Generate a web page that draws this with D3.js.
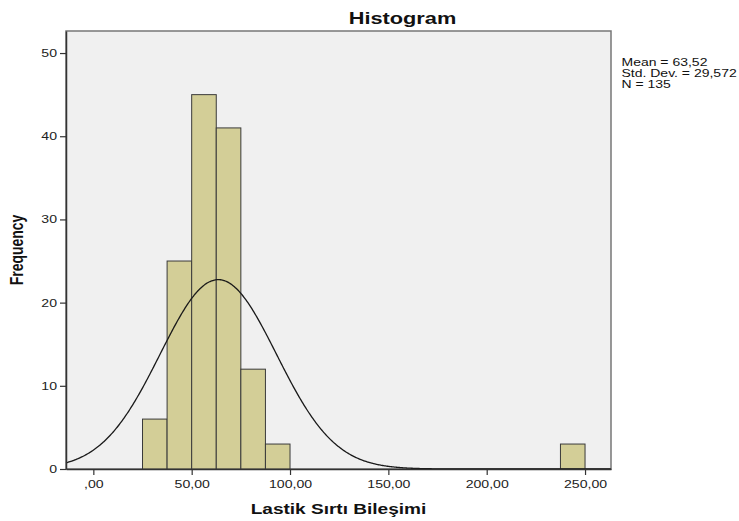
<!DOCTYPE html>
<html>
<head>
<meta charset="utf-8">
<script src="https://cdn.jsdelivr.net/npm/d3@7"></script>
<style>
  body { margin: 0; background: #fff; }
  text { font-family: Arial, "Liberation Sans", sans-serif; }
</style>
</head>
<body>
<div id="container"></div>
<script>
// histogram bins (lower edge, upper edge, count)
let binStart = [25, 37.5, 50, 62.5, 75, 87.5, 237.5];
let binEnd = [37.5, 50, 62.5, 75, 87.5, 100, 250];
let counts = [6, 25, 45, 41, 12, 3, 3];
let xTicks = [0, 50, 100, 150, 200, 250];
let xTickLabels = [",00", "50,00", "100,00", "150,00", "200,00", "250,00"];
let yTicks = [0, 10, 20, 30, 40, 50];
let stats = ["Mean = 63,52", "Std. Dev. = 29,572", "N = 135"];
let mean = 63.52, sd = 29.572, n = 135, binWidth = 12.5;

// the picture's text is drawn wide, so labels get a horizontal stretch
let sx = 1.28;

let svg = d3.select('#container')
    .append('svg')
    .attr("width", 739)
    .attr("height", 521);

let plotLeft = 66, plotRight = 611, plotTop = 31, plotBottom = 469;

let x = d3.scaleLinear().domain([-13.9, 263.2]).range([plotLeft, plotRight]);
let y = d3.scaleLinear().domain([0, 52.65]).range([plotBottom, plotTop]);

function wideText(sel, cx, cy, s) {
    s = s || sx;
    sel.attr('x', cx / s).attr('y', cy)
       .attr('transform', `scale(${s},1)`);
}

// plot background
svg.append('rect')
    .attr('x', plotLeft).attr('y', plotTop)
    .attr('width', plotRight - plotLeft).attr('height', plotBottom - plotTop)
    .attr('fill', '#f0f0f0')
    .attr('stroke', '#777')
    .attr('stroke-width', 1.5);

// bars
svg.selectAll('rect.bar')
    .data(counts)
    .enter()
    .append('rect')
    .attr('class', 'bar')
    .attr('x', (d, i) => x(binStart[i]))
    .attr('width', (d, i) => x(binEnd[i]) - x(binStart[i]))
    .attr('y', d => y(d))
    .attr('height', d => y(0) - y(d))
    .attr('fill', '#d3ce97')
    .attr('stroke', '#3a3a3a')
    .attr('stroke-width', 1);

// normal curve
let peak = n * binWidth / (sd * Math.sqrt(2 * Math.PI));
let curveX = d3.range(x.domain()[0], x.domain()[1], 0.5);
let line = d3.line()
    .x(d => x(d))
    .y(d => y(peak * Math.exp(-0.5 * Math.pow((d - mean) / sd, 2))))
    .curve(d3.curveBasis);
svg.append('path')
    .datum(curveX)
    .attr('d', line)
    .attr('fill', 'none')
    .attr('stroke', '#1a1a1a')
    .attr('stroke-width', 1.3);

// axes
let yAxis = d3.axisLeft(y).tickValues(yTicks).tickSize(6).tickPadding(3).tickSizeOuter(0);
let gy = svg.append('g')
    .attr('transform', `translate(${plotLeft},0)`)
    .call(yAxis);
gy.select('.domain').attr('stroke', '#333').attr('stroke-width', 1.5);

let xAxis = d3.axisBottom(x).tickValues(xTicks)
    .tickFormat((d, i) => xTickLabels[i])
    .tickSize(6).tickPadding(5).tickSizeOuter(0);
let gx = svg.append('g')
    .attr('transform', `translate(0,${plotBottom})`)
    .call(xAxis);
gx.select('.domain').attr('stroke', '#333').attr('stroke-width', 1.5);

svg.selectAll('.tick line').attr('stroke', '#333').attr('stroke-width', 1.2);
svg.selectAll('.tick text')
    .attr('font-size', 11)
    .attr('fill', '#222')
    .style('font-family', 'Arial, "Liberation Sans", sans-serif')
    .each(function() {
        let t = d3.select(this);
        let tx = +(t.attr('x') || 0);
        t.attr('x', tx / sx).attr('transform', `scale(${sx},1)`);
    });

// title
svg.append('text')
    .call(wideText, (plotLeft + 739) / 2, 24)
    .attr('text-anchor', 'middle')
    .attr('font-size', 17)
    .attr('font-weight', 'bold')
    .attr('fill', '#111')
    .text('Histogram');

// axis titles
svg.append('text')
    .call(wideText, (plotLeft + plotRight) / 2, 514.5, 1.36)
    .attr('text-anchor', 'middle')
    .attr('font-size', 14)
    .attr('font-weight', 'bold')
    .attr('fill', '#111')
    .text('Lastik Sırtı Bileşimi');

svg.append('text')
    .attr('transform', `translate(23,${(plotTop + plotBottom) / 2}) rotate(-90) scale(1,${sx})`)
    .attr('text-anchor', 'middle')
    .attr('font-size', 14)
    .attr('font-weight', 'bold')
    .attr('fill', '#111')
    .text('Frequency');

// stats box
svg.selectAll('text.stat')
    .data(stats)
    .enter()
    .append('text')
    .attr('class', 'stat')
    .each(function(d, i) { d3.select(this).call(wideText, 621.5, 66.3 + i * 10.7, 1.4); })
    .attr('font-size', 10)
    .attr('fill', '#111')
    .text(d => d);
</script>
</body>
</html>
